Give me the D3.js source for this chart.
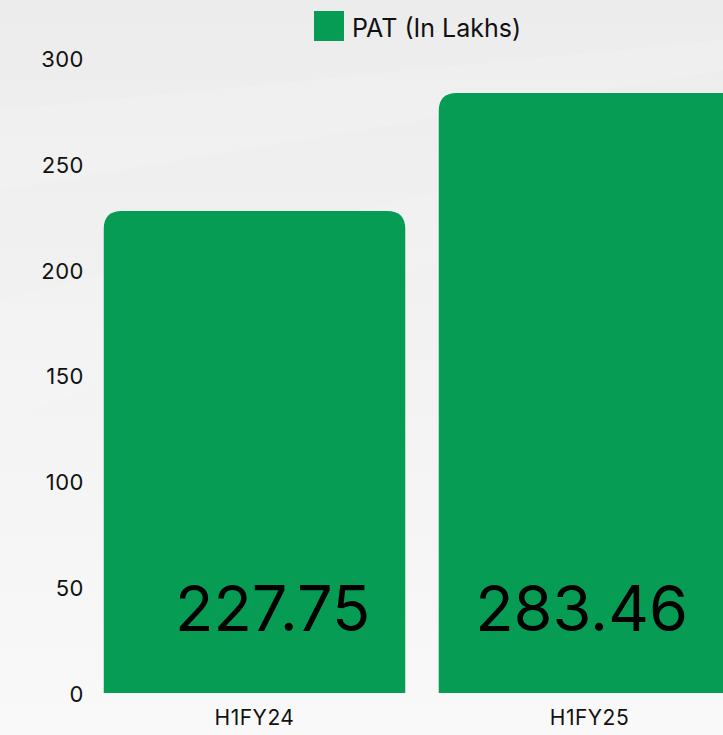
<!DOCTYPE html>
<html>
<head>
<meta charset="utf-8">
<script src="https://cdn.jsdelivr.net/npm/d3@7"></script>
<style>
  html, body { margin: 0; padding: 0; }
  body { width: 723px; height: 735px; overflow: hidden; font-family: "Inter", "Noto Sans", sans-serif; }
</style>
</head>
<body>
<svg id="chart"></svg>
<script>
const categories = ["H1FY24", "H1FY25"];
const patValues = [227.75, 283.46];
const yTicks = [0, 50, 100, 150, 200, 250, 300];
const seriesName = "PAT (In Lakhs)";

const width = 723, height = 735;
const green = "#069c54";

const svg = d3.select("#chart").attr("width", width).attr("height", height);

// sfondo grigio chiaro con qualche riflesso diagonale
const defs = svg.append("defs");
const bg = defs.append("linearGradient").attr("id", "bg").attr("x1", 0).attr("y1", 0).attr("x2", 0).attr("y2", 1);
bg.append("stop").attr("offset", "0%").attr("stop-color", "#ececec");
bg.append("stop").attr("offset", "45%").attr("stop-color", "#f2f2f2");
bg.append("stop").attr("offset", "100%").attr("stop-color", "#f9f9f9");
svg.append("rect").attr("width", width).attr("height", height).attr("fill", "url(#bg)");
svg.append("path").attr("d", "M0,110 L723,40 L723,70 L0,190 Z").attr("fill", "#ffffff").attr("opacity", 0.15);
svg.append("path").attr("d", "M0,300 L723,120 L723,160 L0,420 Z").attr("fill", "#ffffff").attr("opacity", 0.12);

const x = d3.scaleBand().domain(categories).range([87, 757]).paddingInner(0.1).paddingOuter(0.05);
const y = d3.scaleLinear().domain([0, 300]).range([693, 58]);

// asse y
const yAxis = svg.append("g")
  .attr("transform", "translate(84,0)")
  .call(d3.axisLeft(y).tickValues(yTicks).tickSize(0).tickPadding(0));
yAxis.select(".domain").remove();
yAxis.selectAll("text")
  .attr("font-size", "22px").attr("fill", "#111").attr("font-family", "Inter, sans-serif")
  .attr("letter-spacing", "0.5px").attr("dy", "0.38em");

// asse x
const xAxis = svg.append("g")
  .attr("transform", "translate(0,709)")
  .call(d3.axisBottom(x).tickSize(0).tickPadding(0));
xAxis.select(".domain").remove();
xAxis.selectAll("text")
  .attr("font-size", "21px").attr("fill", "#111").attr("font-family", "Inter, sans-serif")
  .attr("letter-spacing", "0.5px").attr("dy", "0.75em");

// barre con angoli superiori arrotondati
const r = 18;
function barPath(x0, w, yTop, yBase) {
  return `M${x0},${yBase} L${x0},${yTop + r} Q${x0},${yTop} ${x0 + r},${yTop} ` +
    `L${x0 + w - r},${yTop} Q${x0 + w},${yTop} ${x0 + w},${yTop + r} L${x0 + w},${yBase} Z`;
}
svg.selectAll("path.bar")
  .data(categories)
  .join("path")
  .attr("class", "bar")
  .attr("fill", green)
  .attr("d", (d, i) => barPath(x(d), x.bandwidth(), y(patValues[i]), y(0)));

// etichette dei valori, allineate a destra della parte visibile della barra
svg.selectAll("text.value")
  .data(categories)
  .join("text")
  .attr("class", "value")
  .attr("x", d => Math.min(x(d) + x.bandwidth(), width) - 35)
  .attr("y", 631)
  .attr("text-anchor", "end")
  .attr("font-size", "63px")
  .attr("font-family", "Inter, sans-serif")
  .attr("fill", "#000")
  .text((d, i) => patValues[i].toFixed(2));

// legenda
const legend = svg.append("g").attr("transform", "translate(314,11)");
legend.append("rect").attr("width", 30).attr("height", 30).attr("fill", green);
legend.append("text").attr("x", 38).attr("y", 26).attr("font-size", "25px")
  .attr("font-family", "Inter, sans-serif").attr("fill", "#111").text(seriesName);
</script>
</body>
</html>
